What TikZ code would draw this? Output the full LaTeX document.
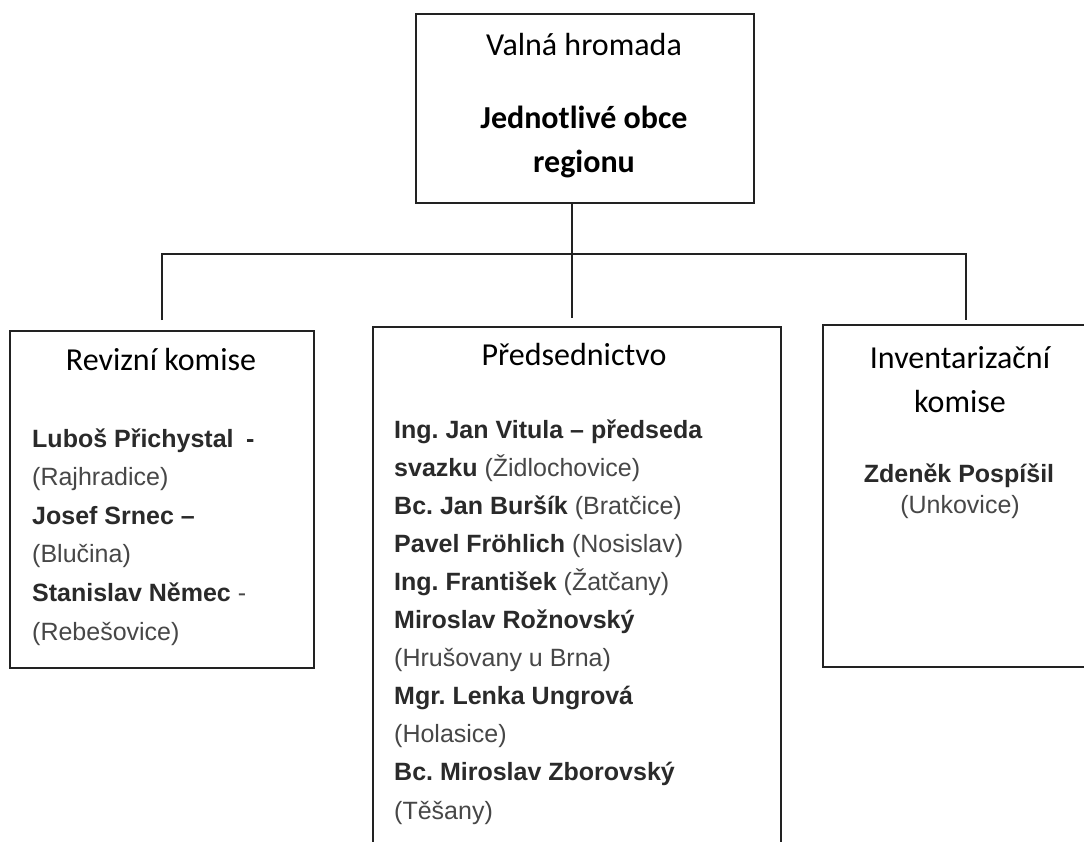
\documentclass[tikz,border=0pt]{standalone}
\usepackage{fontspec}
\usepackage{xcolor}
\setmainfont{Carlito}
\newfontfamily\arialfont{Liberation Sans}
\definecolor{linegray}{HTML}{222222}
\definecolor{namegray}{HTML}{2A2A2A}
\definecolor{placegray}{HTML}{474747}
\newcommand{\nm}[1]{{\color{namegray}\bfseries #1}}
\frenchspacing

\begin{document}
\begin{tikzpicture}[x=1pt, y=-1pt,
  box/.style={draw=linegray, line width=1.6pt, anchor=north west, inner sep=0pt},
  conn/.style={draw=linegray, line width=1.6pt},
  head/.style={font=\fontsize{32}{44}\selectfont, inner sep=0pt, anchor=base, text=black},
  member/.style={font=\arialfont\fontsize{25}{38}\selectfont, inner sep=0pt, anchor=base west, text=placegray}]
  \useasboundingbox (0,0) rectangle (1084,841);
  \fill[white] (0,0) rectangle (1084,841);
  \clip (0,0) rectangle (1084,841);

  \node[box, minimum width=338, minimum height=189] (VH)  at (415,13)  {};
  \node[box, minimum width=304, minimum height=337] (REV) at (9,330)   {};
  \node[box, minimum width=408, minimum height=600] (PRE) at (372,326) {};
  \node[box, minimum width=286, minimum height=342] (INV) at (822,324) {};

  \node[head]           (VH1) at (584,55)  {Valná hromada};
  \node[head,font=\fontsize{32}{44}\selectfont\bfseries] (VH2) at (584,128) {Jednotlivé obce};
  \node[head,font=\fontsize{32}{44}\selectfont\bfseries] (VH3) at (584,172) {regionu};
  \node[head]           (REV1) at (161,370) {Revizní komise};
  \node[head]           (PRE1) at (574,365) {Předsednictvo};
  \node[head]           (INV1) at (960,368) {Inventarizační};
  \node[head]           (INV2) at (960,412) {komise};

  \foreach \txt [count=\i] in {\nm{Luboš Přichystal\enspace-}, (Rajhradice),
      \nm{Josef Srnec –}, (Blučina), \nm{Stanislav Němec} -, (Rebešovice)}
    \node[member] (R\i) at (32,{447+38.6*(\i-1)}) {\txt};

  \foreach \txt [count=\i] in {\nm{Ing. Jan Vitula – předseda}, \nm{svazku} (Židlochovice),
      \nm{Bc. Jan Buršík} (Bratčice), \nm{Pavel Fröhlich} (Nosislav),
      \nm{Ing. František} (Žatčany), \nm{Miroslav Rožnovský}, (Hrušovany u Brna),
      \nm{Mgr. Lenka Ungrová}, (Holasice), \nm{Bc. Miroslav Zborovský}, (Těšany)}
    \node[member] (P\i) at (394,{438+38.1*(\i-1)}) {\txt};

  \node[member, anchor=base] (I1) at (959,482) {\nm{Zdeněk Pospíšil}};
  \node[member, anchor=base] (I2) at (960,513) {(Unkovice)};

  \coordinate (bus) at (572,254);
  \path[conn] (VH.south -| bus) -- ([yshift=8pt]PRE.north -| bus);
  \path[conn] ([yshift=10pt]REV.north) |- (bus) -| ([yshift=4pt]INV.north);
\end{tikzpicture}
\end{document}
